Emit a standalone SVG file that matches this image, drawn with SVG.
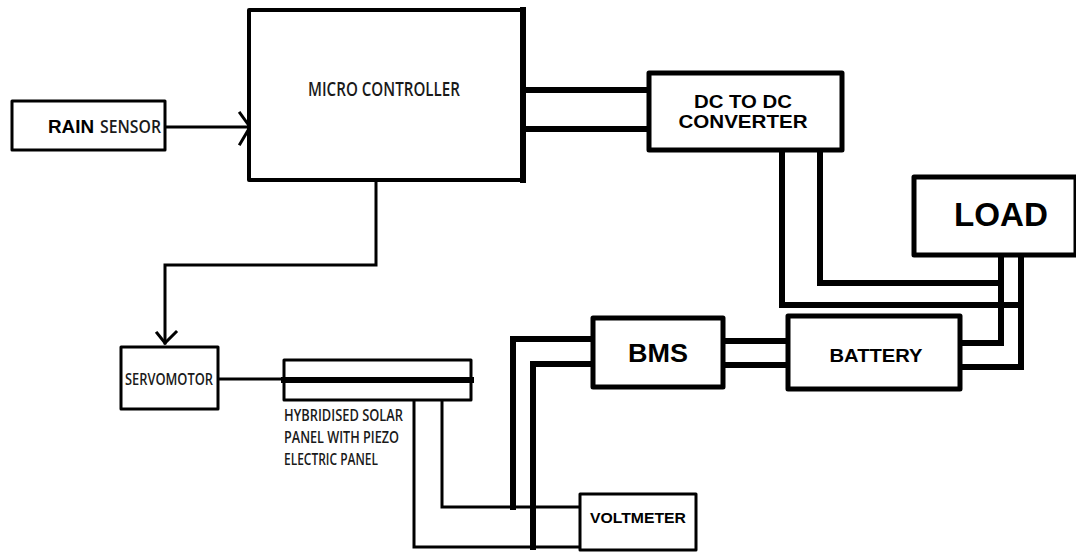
<svg xmlns="http://www.w3.org/2000/svg" width="1076" height="554" viewBox="0 0 1076 554">
<style>
.box{fill:#fff;stroke:#000;stroke-linejoin:round}
.w{fill:none;stroke:#000;stroke-linejoin:miter;stroke-linecap:square}
.thin{stroke-width:3}
.thick{stroke-width:6}
.ar{font-family:"Liberation Sans",Arial,sans-serif;font-weight:bold;fill:#000}
.cn{font-family:"Open Sans","Liberation Sans",sans-serif;font-weight:600;fill:#1a1a1a}
</style>
<rect width="1076" height="554" fill="#fff"/>
<g id="connectors">
<path class="w thin" d="M165 127 H249"/>
<path class="w thin" d="M240 113 L250 127 L240 144" stroke-linecap="round"/>
<path class="w thin" d="M376 180 V265 H165 V343"/>
<path class="w thin" d="M157 333 L165 343 L176 332" stroke-linecap="round"/>
<path class="w thin" d="M218 379 H284"/>
<path class="w thin" d="M442 400 V507 H580"/>
<path class="w thin" d="M414 400 V547 H580"/>
<path class="w thick" d="M593 339 H513 V507"/>
<path class="w thick" d="M593 364 H533 V547"/>
<path class="w thick" d="M523 90 H649"/>
<path class="w thick" d="M523 129 H649"/>
<path class="w thick" d="M782 150 V305 H1021"/>
<path class="w thick" d="M820 150 V283 H1001"/>
<path class="w thick" d="M723 341 H788"/>
<path class="w thick" d="M723 365 H788"/>
<path class="w thick" d="M960 343 H1001 V256"/>
<path class="w thick" d="M960 367 H1021 V256"/>
</g>
<g id="rain-sensor">
<rect class="box" x="12" y="101" width="153" height="49" stroke-width="3"/>
<text class="ar" x="48" y="133" font-size="18" textLength="46" lengthAdjust="spacingAndGlyphs">RAIN</text>
<text class="cn" x="100" y="133" font-size="18" textLength="61" lengthAdjust="spacingAndGlyphs" fill="#222">SENSOR</text>
</g>
<g id="micro-controller">
<rect class="box" x="249" y="10" width="274" height="170" stroke-width="4"/>
<path class="w" d="M523 10 V180" stroke-width="6"/>
<text class="cn" x="308" y="96" font-size="19" textLength="152" lengthAdjust="spacingAndGlyphs">MICRO CONTROLLER</text>
</g>
<g id="dc-dc-converter">
<rect class="box" x="649" y="73" width="193" height="77" stroke-width="5"/>
<text class="ar" x="743" y="108" font-size="17.5" text-anchor="middle" textLength="98" lengthAdjust="spacingAndGlyphs">DC TO DC</text>
<text class="ar" x="743" y="128" font-size="17.5" text-anchor="middle" textLength="129" lengthAdjust="spacingAndGlyphs">CONVERTER</text>
</g>
<g id="load">
<rect class="box" x="914" y="177" width="162" height="78" stroke-width="5"/>
<text class="ar" x="1001" y="226" font-size="34" text-anchor="middle" textLength="94" lengthAdjust="spacingAndGlyphs">LOAD</text>
</g>
<g id="servomotor">
<rect class="box" x="121" y="347" width="97" height="62" stroke-width="3"/>
<text class="cn" x="125" y="385" font-size="16.5" textLength="88" lengthAdjust="spacingAndGlyphs">SERVOMOTOR</text>
</g>
<g id="solar-panel">
<rect class="box" x="284" y="360" width="187" height="40" stroke-width="3"/>
<path class="w" d="M284 380 H471" stroke-width="6"/>
<text class="cn" font-size="15.5">
<tspan x="284" y="421" textLength="119" lengthAdjust="spacingAndGlyphs">HYBRIDISED SOLAR</tspan>
<tspan x="284" y="443" textLength="115" lengthAdjust="spacingAndGlyphs">PANEL WITH PIEZO</tspan>
<tspan x="284" y="465" textLength="94" lengthAdjust="spacingAndGlyphs">ELECTRIC PANEL</tspan>
</text>
</g>
<g id="bms">
<rect class="box" x="593" y="318" width="130" height="69" stroke-width="5"/>
<text class="ar" x="658" y="362" font-size="26" text-anchor="middle" textLength="60" lengthAdjust="spacingAndGlyphs">BMS</text>
</g>
<g id="battery">
<rect class="box" x="788" y="316" width="172" height="73" stroke-width="5"/>
<text class="ar" x="876" y="362" font-size="19" text-anchor="middle" textLength="93" lengthAdjust="spacingAndGlyphs">BATTERY</text>
</g>
<g id="voltmeter">
<rect class="box" x="580" y="494" width="116" height="56" stroke-width="3"/>
<text class="ar" x="638" y="523" font-size="15.5" text-anchor="middle" textLength="96" lengthAdjust="spacingAndGlyphs">VOLTMETER</text>
</g>
</svg>
